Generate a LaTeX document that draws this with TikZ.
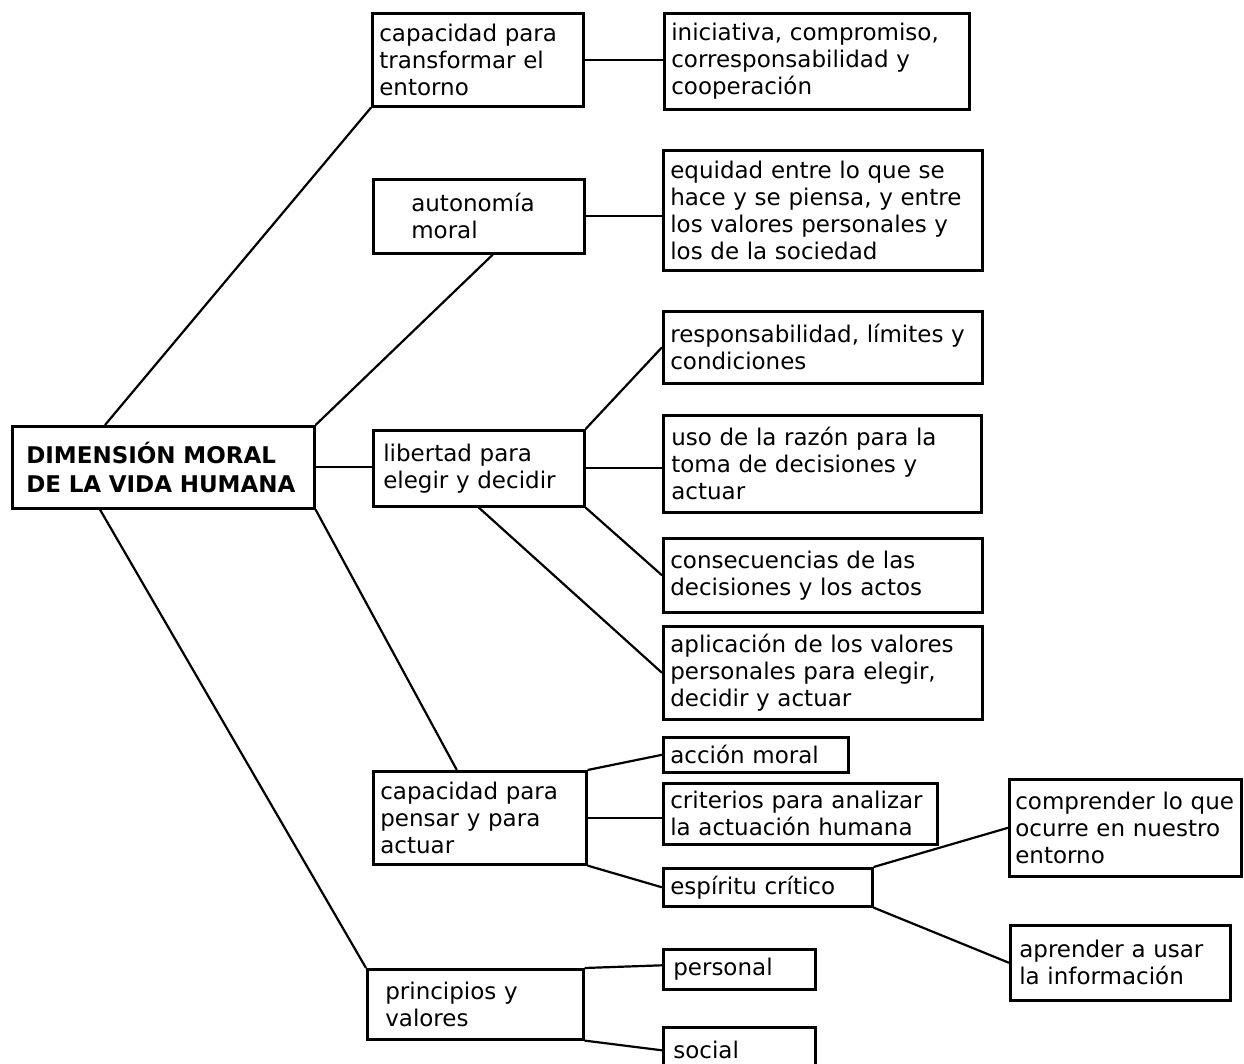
\documentclass[tikz,border=0pt]{standalone}
\usepackage{fontspec}
\setmainfont{DejaVu Sans}

\tikzset{
  concept/.style={draw, line width=2.6pt, anchor=north west, align=left,
    inner xsep=8pt, inner ysep=2pt, font=\fontsize{23}{27}\selectfont},
  link/.style={line width=2.2pt},
}

\begin{document}
\begin{tikzpicture}[x=1pt, y=-1pt]
  \useasboundingbox (0,0) rectangle (1244,1064);

  %%%%%%%%%%%%%%%%%%%%%%%%%%%%%%%%%%%%%%%%%%%%%%%%%
  % Root
  \node[concept, font=\fontsize{23}{29}\selectfont\bfseries, inner xsep=14pt,
        text width=274pt, minimum height=82pt] (root) at (11,425)
        {DIMENSIÓN MORAL\\DE LA VIDA HUMANA};

  %%%%%%%%%%%%%%%%%%%%%%%%%%%%%%%%%%%%%%%%%%%%%%%%%
  % First level
  \node[concept, inner xsep=7pt, text width=197pt, minimum height=93pt] (transf) at (371,12)
        {capacidad para\\transformar el\\entorno};
  \node[concept, inner xsep=38pt, text width=135pt, minimum height=74pt] (auton) at (372,178)
        {autonomía\\moral};
  \node[concept, inner xsep=10pt, text width=191pt, minimum height=76pt] (libert) at (372,429)
        {libertad para\\elegir y decidir};
  \node[concept, inner xsep=7pt, text width=199pt, minimum height=93pt] (pensar) at (372,770)
        {capacidad para\\pensar y para\\actuar};
  \node[concept, inner xsep=18pt, text width=180pt, minimum height=70pt] (princ) at (366,968)
        {principios y\\valores};

  %%%%%%%%%%%%%%%%%%%%%%%%%%%%%%%%%%%%%%%%%%%%%%%%%
  % Second level
  \node[concept, inner xsep=7pt, text width=291pt, minimum height=96pt] (inic) at (663,12)
        {iniciativa, compromiso,\\corresponsabilidad y\\cooperación};
  \node[concept, inner xsep=7pt, text width=305pt, minimum height=120pt] (equid) at (662,149)
        {equidad entre lo que se\\hace y se piensa, y entre\\los valores personales y\\los de la sociedad};
  \node[concept, inner xsep=7pt, text width=305pt, minimum height=72pt] (respon) at (662,310)
        {responsabilidad, límites y\\condiciones};
  \node[concept, text width=302pt, minimum height=97pt] (razon) at (662,414)
        {uso de la razón para la\\toma de decisiones y\\actuar};
  \node[concept, inner xsep=7pt, text width=305pt, minimum height=74pt] (consec) at (662,537)
        {consecuencias de las\\decisiones y los actos};
  \node[concept, inner xsep=7pt, text width=305pt, minimum height=93pt] (aplic) at (662,625)
        {aplicación de los valores\\personales para elegir,\\decidir y actuar};
  \node[concept, inner xsep=7pt, text width=171pt, minimum height=35pt] (accion) at (662,736)
        {acción moral};
  \node[concept, inner xsep=7pt, text width=260pt, minimum height=61pt] (criter) at (662,782)
        {criterios para analizar\\la actuación humana};
  \node[concept, inner xsep=7pt, text width=195pt, minimum height=38pt] (espir) at (662,867)
        {espíritu crítico};
  \node[concept, inner xsep=10pt, text width=132pt, minimum height=40pt] (personal) at (662,948)
        {personal};
  \node[concept, inner xsep=10pt, text width=132pt, minimum height=46pt] (social) at (662,1026)
        {social};

  %%%%%%%%%%%%%%%%%%%%%%%%%%%%%%%%%%%%%%%%%%%%%%%%%
  % Third level
  \node[concept, inner xsep=6pt, text width=220pt, minimum height=97pt] (compr) at (1008,778)
        {comprender lo que\\ocurre en nuestro\\entorno};
  \node[concept, inner xsep=9pt, text width=202pt, minimum height=75pt] (aprend) at (1009,924)
        {aprender a usar\\la información};

  %%%%%%%%%%%%%%%%%%%%%%%%%%%%%%%%%%%%%%%%%%%%%%%%%
  % Links from the root
  \draw[link] ([xshift=94pt]root.north west) -- (transf.south west);
  \draw[link] (root.north east) -- ([xshift=14pt]auton.south);
  \draw[link] (root.east) -- (root.east -| libert.west);
  \draw[link] (root.south east) -- ([xshift=-23pt]pensar.north);
  \draw[link] ([xshift=89pt]root.south west) -- (princ.north west);

  % Links to the second level
  \draw[link] (transf.east) -- (transf.east -| inic.west);
  \draw[link] (auton.east) -- (auton.east -| equid.west);
  \draw[link] (libert.north east) -- (respon.west);
  \draw[link] (libert.east) -- (libert.east -| razon.west);
  \draw[link] (libert.south east) -- (consec.west);
  \draw[link] (libert.south) -- (aplic.west);
  \draw[link] (pensar.north east) -- (accion.west);
  \draw[link] (pensar.east) -- (pensar.east -| criter.west);
  \draw[link] (pensar.south east) -- (espir.west);
  \draw[link] (princ.north east) -- ([yshift=4pt]personal.west);
  \draw[link] (princ.south east) -- (social.west);

  % Links to the third level
  \draw[link] (espir.north east) -- (compr.west);
  \draw[link] (espir.south east) -- (aprend.west);

\end{tikzpicture}
\end{document}
